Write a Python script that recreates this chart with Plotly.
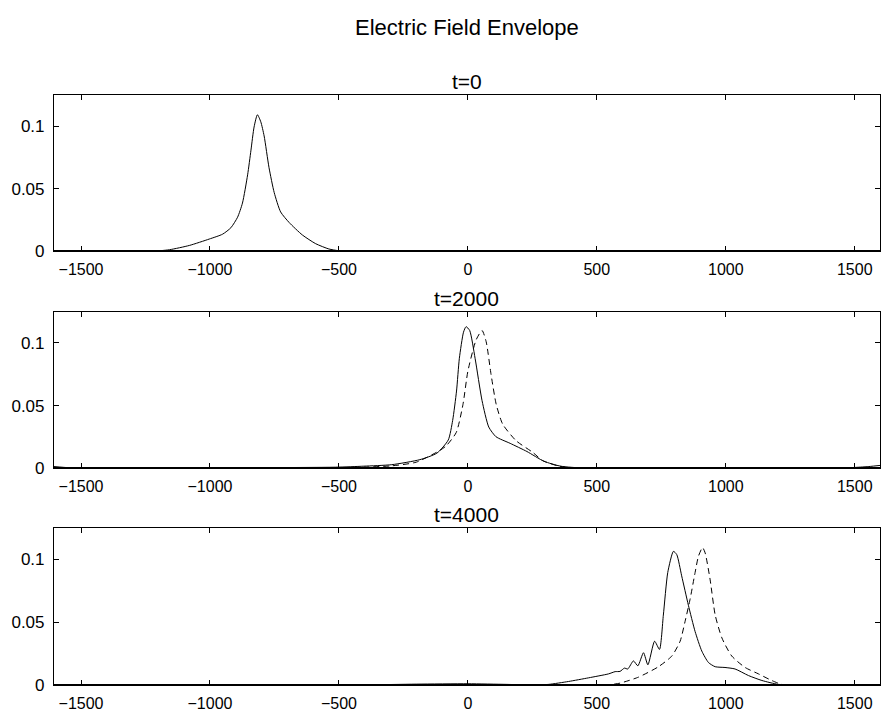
import plotly.graph_objects as go

# ---------------- data ----------------
x_ticks = [-1500, -1000, -500, 0, 500, 1000, 1500]
x_tick_labels = ["\u22121500", "\u22121000", "\u2212500", "0", "500", "1000", "1500"]
y_ticks = [0, 0.05, 0.1]
y_tick_labels = ["0", "0.05", "0.1"]

panel_titles = ["t=0", "t=2000", "t=4000"]
main_title = "Electric Field Envelope"

t0_x = [-1605, -1300, -1234, -1157, -1080, -1003, -951, -919, -893, -874, -854, -841,
        -829, -816, -803, -790, -771, -751, -726, -693, -642, -590, -539, -500, -410, 1598]
t0_y = [0, 0, 0, 0.0014, 0.0048, 0.0099, 0.0138, 0.0189, 0.0273, 0.0386, 0.0611, 0.0808,
        0.0992, 0.109, 0.1034, 0.0921, 0.0668, 0.047, 0.0315, 0.0231, 0.0132, 0.0062,
        0.002, 0.0006, 0, 0]

t2000_solid_x = [-1605, -1550, -1500, -1200, -800, -513, -404, -295, -186, -120, -76, -59,
                 -44, -33, -17, -7, 7, 28, 55, 81, 109, 164, 229, 295, 360, 448, 600,
                 1400, 1500, 1560, 1598]
t2000_solid_y = [0.0015, 0.0006, 0, 0, 0.0006, 0.001, 0.0018, 0.003, 0.007, 0.0122, 0.0227,
                 0.0383, 0.0617, 0.0878, 0.1086, 0.113, 0.11, 0.0878, 0.054, 0.033, 0.0253,
                 0.02, 0.0135, 0.0057, 0.0018, 0.0003, 0, 0, 0.0008, 0.0016, 0.0024]

t2000_dash_x = [-600, -300, -200, -110, -84, -45, -19, 0, 32, 55, 71, 90, 110, 135, 187,
                251, 290, 350, 420, 600]
t2000_dash_y = [0, 0.002, 0.005, 0.0142, 0.018, 0.0287, 0.051, 0.0775, 0.1025, 0.11, 0.101,
                0.0748, 0.051, 0.0353, 0.0221, 0.0129, 0.0063, 0.002, 0, 0]

t4000_solid_x = [-1605, -600, -400, -200, 0, 150, 250, 313, 390, 468, 545, 571, 590, 607,
                 620, 642, 659, 681, 698, 724, 743, 758, 775, 797, 810, 829, 855, 881, 907,
                 933, 959, 997, 1036, 1088, 1140, 1204, 1282, 1346, 1598]
t4000_solid_y = [0, 0, 0.0004, 0.001, 0.0013, 0.0008, 0.0004, 0.0008, 0.0031, 0.006, 0.0091,
                 0.0109, 0.0111, 0.0137, 0.013, 0.0194, 0.0155, 0.0259, 0.0163, 0.035, 0.0285,
                 0.0557, 0.0894, 0.1062, 0.1036, 0.0868, 0.0635, 0.0427, 0.0272, 0.0181,
                 0.0148, 0.0142, 0.013, 0.0078, 0.0039, 0.0008, 0.0003, 0, 0]

t4000_dash_x = [490, 545, 590, 661, 739, 791, 823, 842, 862, 881, 894, 910, 920, 939, 959,
                985, 1023, 1075, 1127, 1178, 1217, 1269, 1350]
t4000_dash_y = [0, 0.0005, 0.0018, 0.0065, 0.0148, 0.0233, 0.035, 0.0505, 0.0687, 0.0894,
                0.1023, 0.1092, 0.105, 0.0842, 0.0557, 0.0376, 0.0233, 0.0142, 0.0091,
                0.0039, 0.0008, 0, 0]

# ---------------- figure ----------------
W, H = 881, 724
FONT = "Liberation Sans, Arial, Helvetica, sans-serif"

fig = go.Figure()

line_solid = dict(color="black", width=1, shape="spline", smoothing=0.6)
line_dash = dict(color="black", width=1, dash="6px,4px", shape="spline", smoothing=0.6)

fig.add_trace(go.Scatter(x=t0_x, y=t0_y, mode="lines", line=line_solid, xaxis="x", yaxis="y"))
fig.add_trace(go.Scatter(x=t2000_solid_x, y=t2000_solid_y, mode="lines", line=line_solid,
                         xaxis="x2", yaxis="y2"))
fig.add_trace(go.Scatter(x=t2000_dash_x, y=t2000_dash_y, mode="lines", line=line_dash,
                         xaxis="x2", yaxis="y2"))
fig.add_trace(go.Scatter(x=t4000_solid_x, y=t4000_solid_y, mode="lines", line=line_solid,
                         xaxis="x3", yaxis="y3"))
fig.add_trace(go.Scatter(x=t4000_dash_x, y=t4000_dash_y, mode="lines", line=line_dash,
                         xaxis="x3", yaxis="y3"))

# pixel boxes (top, bottom) for each panel
boxes = [(96, 255), (316, 475), (535, 695)]
left_px = 54

def ydom(top, bottom):
    return [1 - bottom / H, 1 - top / H]

xdom = [left_px / W, 1.0]

axis_common_x = dict(range=[-1605, 1598], tickvals=x_ticks, ticktext=x_tick_labels,
                     ticks="inside", ticklen=5, tickwidth=1, tickcolor="black",
                     showline=True, linecolor="black", linewidth=1, mirror="ticks",
                     showgrid=False, zeroline=False, fixedrange=True, ticklabelstandoff=3,
                     tickfont=dict(family=FONT, size=16, color="black"), domain=xdom)
axis_common_y = dict(range=[0, 0.125], tickvals=y_ticks, ticktext=y_tick_labels,
                     ticks="inside", ticklen=5, tickwidth=1, tickcolor="black",
                     showline=True, linecolor="black", linewidth=1, mirror="ticks",
                     showgrid=False, zeroline=False, fixedrange=True, ticklabelstandoff=5,
                     tickfont=dict(family=FONT, size=17, color="black"))

layout = dict(width=W, height=H, margin=dict(l=0, r=0, t=0, b=0),
              paper_bgcolor="white", plot_bgcolor="white", showlegend=False,
              font=dict(family=FONT, color="black"))
annotations = []
shapes = []
for i, (top, bottom) in enumerate(boxes):
    sfx = "" if i == 0 else str(i + 1)
    layout["xaxis" + sfx] = dict(axis_common_x, anchor="y" + sfx)
    layout["yaxis" + sfx] = dict(axis_common_y, anchor="x" + sfx, domain=ydom(top, bottom))
    annotations.append(dict(text=panel_titles[i], x=(xdom[0] + xdom[1]) / 2,
                            y=1 - (top - 1) / H, xref="paper", yref="paper",
                            xanchor="center", yanchor="bottom", showarrow=False,
                            borderpad=0,
                            font=dict(family=FONT, size=21, color="black")))
    shapes.append(dict(type="line", xref="x" + sfx + " domain", yref="y" + sfx,
                       x0=0, x1=1, y0=0, y1=0, line=dict(color="black", width=3)))

annotations.append(dict(text=main_title, x=(xdom[0] + xdom[1]) / 2, y=1 - 28 / H,
                        xref="paper", yref="paper", xanchor="center", yanchor="middle",
                        showarrow=False, font=dict(family=FONT, size=22, color="black")))
layout["annotations"] = annotations
layout["shapes"] = shapes
fig.update_layout(**layout)

fig.write_html("out.html")
